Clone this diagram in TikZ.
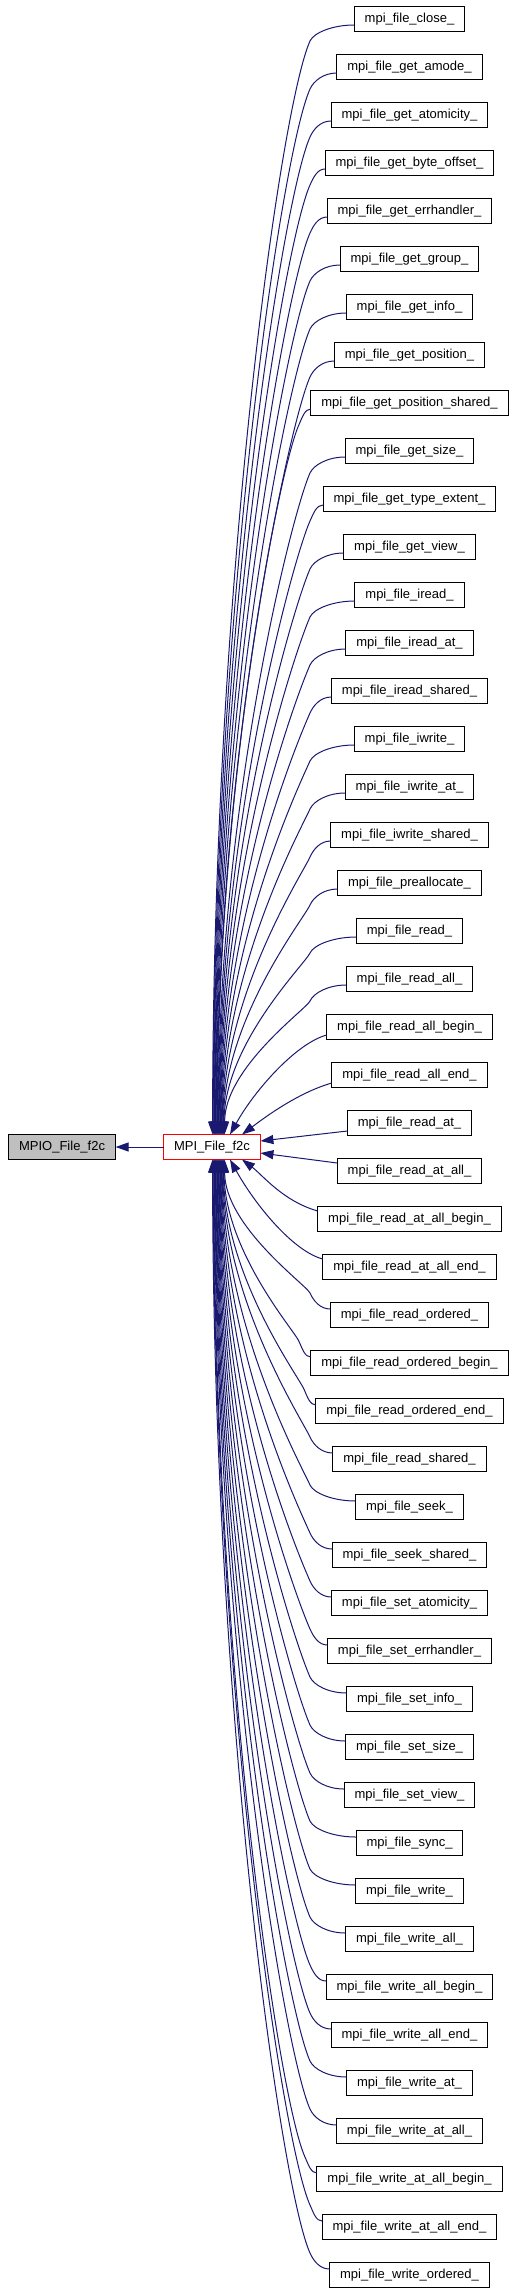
\documentclass[tikz,border=0pt]{standalone}
\usepackage{fontspec}
\setmainfont{Liberation Sans}
\usetikzlibrary{arrows.meta,positioning,calc}
\definecolor{edgeblue}{HTML}{191970}
\definecolor{rootgray}{HTML}{BFBFBF}
\definecolor{focusred}{HTML}{FF0000}
\tikzset{
  funcbox/.style={
    draw=black,
    fill=white,
    line width=1pt,
    outer sep=0pt,
    inner xsep=10.5pt,
    inner ysep=0pt,
    minimum height=25pt,
    text height=9.6pt,
    text depth=2.9pt,
    font=\fontsize{13}{15}\selectfont
  },
  rootbox/.style={funcbox, fill=rootgray},
  focusbox/.style={funcbox, draw=focusred},
  calledge/.style={-{Triangle[length=13pt,width=9pt]}, line width=1pt, draw=edgeblue}
}

\begin{document}
\begin{tikzpicture}[x=1pt, y=1pt, node distance=23pt]
\useasboundingbox (0,0) rectangle (512,-2291);

\node[focusbox] (f2c) at (212,-1147) {MPI\_File\_f2c};
\node[rootbox, left=48pt of f2c] (mpio) {MPIO\_File\_f2c};

% callers, one column
\node[funcbox] (c1) at (409.5,-19) {mpi\_file\_close\_};
\node[funcbox, below=of c1] (c2) {mpi\_file\_get\_amode\_};
\node[funcbox, below=of c2] (c3) {mpi\_file\_get\_atomicity\_};
\node[funcbox, below=of c3] (c4) {mpi\_file\_get\_byte\_offset\_};
\node[funcbox, below=of c4] (c5) {mpi\_file\_get\_errhandler\_};
\node[funcbox, below=of c5] (c6) {mpi\_file\_get\_group\_};
\node[funcbox, below=of c6] (c7) {mpi\_file\_get\_info\_};
\node[funcbox, below=of c7] (c8) {mpi\_file\_get\_position\_};
\node[funcbox, below=of c8] (c9) {mpi\_file\_get\_position\_shared\_};
\node[funcbox, below=of c9] (c10) {mpi\_file\_get\_size\_};
\node[funcbox, below=of c10] (c11) {mpi\_file\_get\_type\_extent\_};
\node[funcbox, below=of c11] (c12) {mpi\_file\_get\_view\_};
\node[funcbox, below=of c12] (c13) {mpi\_file\_iread\_};
\node[funcbox, below=of c13] (c14) {mpi\_file\_iread\_at\_};
\node[funcbox, below=of c14] (c15) {mpi\_file\_iread\_shared\_};
\node[funcbox, below=of c15] (c16) {mpi\_file\_iwrite\_};
\node[funcbox, below=of c16] (c17) {mpi\_file\_iwrite\_at\_};
\node[funcbox, below=of c17] (c18) {mpi\_file\_iwrite\_shared\_};
\node[funcbox, below=of c18] (c19) {mpi\_file\_preallocate\_};
\node[funcbox, below=of c19] (c20) {mpi\_file\_read\_};
\node[funcbox, below=of c20] (c21) {mpi\_file\_read\_all\_};
\node[funcbox, below=of c21] (c22) {mpi\_file\_read\_all\_begin\_};
\node[funcbox, below=of c22] (c23) {mpi\_file\_read\_all\_end\_};
\node[funcbox, below=of c23] (c24) {mpi\_file\_read\_at\_};
\node[funcbox, below=of c24] (c25) {mpi\_file\_read\_at\_all\_};
\node[funcbox, below=of c25] (c26) {mpi\_file\_read\_at\_all\_begin\_};
\node[funcbox, below=of c26] (c27) {mpi\_file\_read\_at\_all\_end\_};
\node[funcbox, below=of c27] (c28) {mpi\_file\_read\_ordered\_};
\node[funcbox, below=of c28] (c29) {mpi\_file\_read\_ordered\_begin\_};
\node[funcbox, below=of c29] (c30) {mpi\_file\_read\_ordered\_end\_};
\node[funcbox, below=of c30] (c31) {mpi\_file\_read\_shared\_};
\node[funcbox, below=of c31] (c32) {mpi\_file\_seek\_};
\node[funcbox, below=of c32] (c33) {mpi\_file\_seek\_shared\_};
\node[funcbox, below=of c33] (c34) {mpi\_file\_set\_atomicity\_};
\node[funcbox, below=of c34] (c35) {mpi\_file\_set\_errhandler\_};
\node[funcbox, below=of c35] (c36) {mpi\_file\_set\_info\_};
\node[funcbox, below=of c36] (c37) {mpi\_file\_set\_size\_};
\node[funcbox, below=of c37] (c38) {mpi\_file\_set\_view\_};
\node[funcbox, below=of c38] (c39) {mpi\_file\_sync\_};
\node[funcbox, below=of c39] (c40) {mpi\_file\_write\_};
\node[funcbox, below=of c40] (c41) {mpi\_file\_write\_all\_};
\node[funcbox, below=of c41] (c42) {mpi\_file\_write\_all\_begin\_};
\node[funcbox, below=of c42] (c43) {mpi\_file\_write\_all\_end\_};
\node[funcbox, below=of c43] (c44) {mpi\_file\_write\_at\_};
\node[funcbox, below=of c44] (c45) {mpi\_file\_write\_at\_all\_};
\node[funcbox, below=of c45] (c46) {mpi\_file\_write\_at\_all\_begin\_};
\node[funcbox, below=of c46] (c47) {mpi\_file\_write\_at\_all\_end\_};
\node[funcbox, below=of c47] (c48) {mpi\_file\_write\_ordered\_};

\draw[calledge] (f2c) -- (mpio);

% long edges from above: shoulder, then down onto the top
\foreach \i in {1,...,21}
  \draw[calledge] let \p1 = ([yshift=-6pt]c\i.west),
                      \p2 = ([xshift={0.6*\i*1pt}]f2c.north),
                      \n1 = {min(310, \x1-12)},
                      \n2 = {\y1-16},
                      \n3 = {\n2-\y2}
    in (\p1) .. controls ({(\x1+\n1)/2},\y1) and (\n1+3.6,\n2+8) .. (\n1,\n2)
             .. controls (\n1-0.027*\n3,\n2-0.06*\n3) and (\x2,\y2+0.5*\n3) .. (\p2);

% long edges from below, mirrored
\foreach \i in {28,...,48}
  \draw[calledge] let \p1 = ([yshift=6pt]c\i.west),
                      \p2 = ([xshift={0.6*(49-\i)*1pt}]f2c.south),
                      \n1 = {min(310, \x1-12)},
                      \n2 = {\y1+16},
                      \n3 = {\y2-\n2}
    in (\p1) .. controls ({(\x1+\n1)/2},\y1) and (\n1+3.6,\n2-8) .. (\n1,\n2)
             .. controls (\n1-0.027*\n3,\n2+0.06*\n3) and (\x2,\y2-0.5*\n3) .. (\p2);

% the near ones
\draw[calledge] ([yshift=-8pt]c22.west) .. controls +(-30,-8) and +(25,45) .. ([xshift=18pt]f2c.north);
\draw[calledge] ([yshift=-8pt]c23.west) .. controls +(-35,-10) and +(20,15) .. ([xshift=30pt]f2c.north);
\draw[calledge] ([yshift=-8pt]c24.west) -- ([yshift=6pt]f2c.east);
\draw[calledge] ([yshift=8pt]c25.west) -- ([yshift=-6pt]f2c.east);
\draw[calledge] ([yshift=8pt]c26.west) .. controls +(-35,10) and +(20,-15) .. ([xshift=30pt]f2c.south);
\draw[calledge] ([yshift=8pt]c27.west) .. controls +(-30,8) and +(25,-45) .. ([xshift=18pt]f2c.south);
\end{tikzpicture}
\end{document}
